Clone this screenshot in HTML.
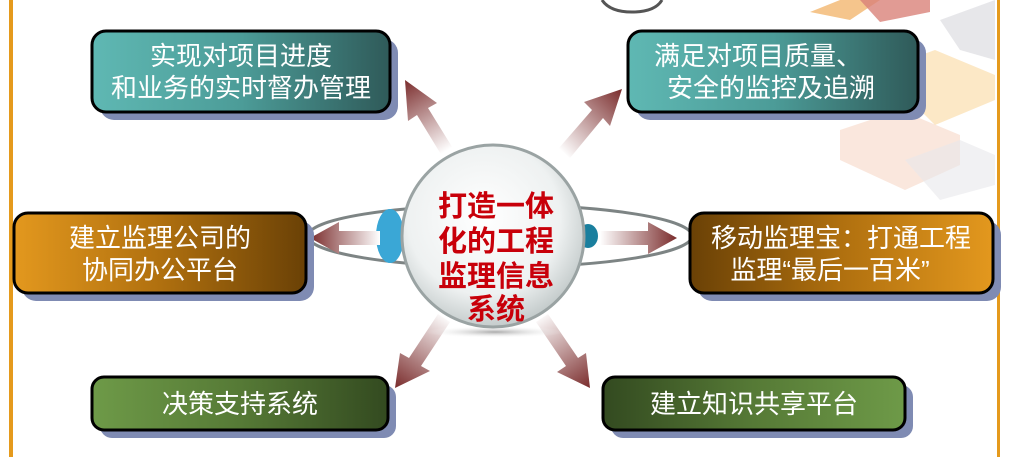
<!DOCTYPE html>
<html><head><meta charset="utf-8"><style>
body{margin:0;background:#fff;}
svg{display:block;}
text{font-family:"Liberation Sans","Noto Sans CJK SC",sans-serif;}
</style></head><body>
<svg width="1021" height="457" viewBox="0 0 1021 457" xmlns="http://www.w3.org/2000/svg">
<defs>
<linearGradient id="teal" x1="0" x2="1" y1="0" y2="0"><stop offset="0" stop-color="#5fb8b3"/><stop offset="0.5" stop-color="#4c9c98"/><stop offset="1" stop-color="#2f5a59"/></linearGradient>
<linearGradient id="orangeL" x1="0" x2="1"><stop offset="0" stop-color="#e3981e"/><stop offset="0.5" stop-color="#b0700f"/><stop offset="1" stop-color="#6a4106"/></linearGradient>
<linearGradient id="orangeR" x1="0" x2="1"><stop offset="0" stop-color="#6a4106"/><stop offset="0.5" stop-color="#b0700f"/><stop offset="1" stop-color="#e3981e"/></linearGradient>
<linearGradient id="greenL" x1="0" x2="1"><stop offset="0" stop-color="#6e9a48"/><stop offset="0.5" stop-color="#567a36"/><stop offset="1" stop-color="#334a20"/></linearGradient>
<linearGradient id="greenR" x1="0" x2="1"><stop offset="0" stop-color="#334a20"/><stop offset="0.5" stop-color="#567a36"/><stop offset="1" stop-color="#6e9a48"/></linearGradient>
<radialGradient id="ball" cx="0.45" cy="0.4" r="0.6"><stop offset="0" stop-color="#ffffff"/><stop offset="0.7" stop-color="#eef1f1"/><stop offset="1" stop-color="#c5cccc"/></radialGradient>
<linearGradient id="a1" gradientUnits="userSpaceOnUse" x1="448" y1="150" x2="405" y2="80"><stop offset="0" stop-color="#fff"/><stop offset="1" stop-color="#7a2c2c"/></linearGradient>
<linearGradient id="a2" gradientUnits="userSpaceOnUse" x1="560" y1="150" x2="622" y2="89"><stop offset="0" stop-color="#fff"/><stop offset="1" stop-color="#7a2c2c"/></linearGradient>
<linearGradient id="a3" gradientUnits="userSpaceOnUse" x1="380" y1="238" x2="310" y2="238"><stop offset="0" stop-color="#fff"/><stop offset="1" stop-color="#7a2c2c"/></linearGradient>
<linearGradient id="a4" gradientUnits="userSpaceOnUse" x1="600" y1="238" x2="677" y2="238"><stop offset="0" stop-color="#fff"/><stop offset="1" stop-color="#7a2c2c"/></linearGradient>
<linearGradient id="a5" gradientUnits="userSpaceOnUse" x1="445" y1="315" x2="395" y2="388"><stop offset="0" stop-color="#fff"/><stop offset="1" stop-color="#7a2c2c"/></linearGradient>
<linearGradient id="a6" gradientUnits="userSpaceOnUse" x1="540" y1="315" x2="590" y2="388"><stop offset="0" stop-color="#fff"/><stop offset="1" stop-color="#7a2c2c"/></linearGradient>
<radialGradient id="sh" cx="0.5" cy="0.5" r="0.5"><stop offset="0" stop-color="#aaa"/><stop offset="1" stop-color="#fff" stop-opacity="0"/></radialGradient>
</defs>
<rect x="9" y="0" width="4" height="457" fill="#e59a1c"/>
<rect x="997" y="0" width="3" height="457" fill="#e59a1c"/>
<path d="M602 0 Q610 12 632 12 Q655 12 662 0" fill="none" stroke="#555" stroke-width="3"/>
<g opacity="0.6">
<polygon points="810,12 840,0 880,0 850,20" fill="#f0a040"/>
<polygon points="860,0 930,0 930,12 880,22" fill="#c03020" opacity="0.8"/>
<polygon points="880,70 935,50 995,75 995,100 935,125" fill="#f6c060" opacity="0.6"/>
<polygon points="840,130 900,110 960,135 960,165 905,190 840,160" fill="#f0b090" opacity="0.5"/>
<polygon points="905,160 960,140 995,155 995,185 940,200" fill="#d9d9de" opacity="0.6"/>
<polygon points="940,20 995,0 995,60 960,50" fill="#c8c8cf" opacity="0.7"/>
</g>
<ellipse cx="500" cy="236" rx="192" ry="31" fill="none" stroke="#7d8484" stroke-width="3"/>
<ellipse cx="390" cy="236" rx="14" ry="27" fill="#3aa7d6"/>
<ellipse cx="588" cy="236" rx="10" ry="12" fill="#1a7f9e"/>
<polygon points="405,80 437,103 428,108 454,150 442,156 417,115 408,121" fill="url(#a1)"/>
<polygon points="622,89 610,126 603,118 570,158 559,148 592,110 584,102" fill="url(#a2)"/>
<polygon points="310,238 339,222 339,231 380,231 380,245 339,245 339,254" fill="url(#a3)"/>
<polygon points="677,238 648,222 648,231 600,231 600,245 648,245 648,254" fill="url(#a4)"/>
<polygon points="395,388 400,353 409,358 438,314 450,322 421,366 430,371" fill="url(#a5)"/>
<polygon points="590,388 557,372 566,366 536,322 548,314 578,358 586,353" fill="url(#a6)"/>
<ellipse cx="495" cy="332" rx="70" ry="6" fill="url(#sh)"/>
<circle cx="493" cy="236" r="91" fill="url(#ball)" stroke="#9aa3a3" stroke-width="3"/>
<g font-weight="bold" font-size="29" fill="#c8000a" text-anchor="middle">
<text x="496" y="216">打造一体</text>
<text x="496" y="251">化的工程</text>
<text x="496" y="286">监理信息</text>
<text x="496" y="319">系统</text>
</g>
<g fill="#7f8bb3">
<rect x="100" y="39" width="298" height="81" rx="14"/>
<rect x="636" y="39" width="290" height="81" rx="14"/>
<rect x="22" y="221" width="292" height="80" rx="14"/>
<rect x="698" y="221" width="303" height="80" rx="14"/>
<rect x="100" y="385" width="296" height="53" rx="12"/>
<rect x="611" y="385" width="302" height="53" rx="12"/>
</g>
<g stroke="#000" stroke-width="3">
<rect x="92" y="31" width="298" height="81" rx="14" fill="url(#teal)"/>
<rect x="628" y="31" width="290" height="81" rx="14" fill="url(#teal)"/>
<rect x="14" y="213" width="292" height="80" rx="14" fill="url(#orangeL)"/>
<rect x="690" y="213" width="303" height="80" rx="14" fill="url(#orangeR)"/>
<rect x="92" y="377" width="296" height="53" rx="12" fill="url(#greenL)"/>
<rect x="603" y="377" width="302" height="53" rx="12" fill="url(#greenR)"/>
</g>
<g fill="#fff" font-size="26" text-anchor="middle">
<text x="241" y="65">实现对项目进度</text>
<text x="241" y="97">和业务的实时督办管理</text>
<text x="758" y="65">满足对项目质量、</text>
<text x="771" y="97">安全的监控及追溯</text>
<text x="160" y="247">建立监理公司的</text>
<text x="160" y="279">协同办公平台</text>
<text x="841" y="247">移动监理宝：打通工程</text>
<text x="830" y="279">监理“最后一百米”</text>
<text x="240" y="413">决策支持系统</text>
<text x="754" y="413">建立知识共享平台</text>
</g>
</svg>
</body></html>
